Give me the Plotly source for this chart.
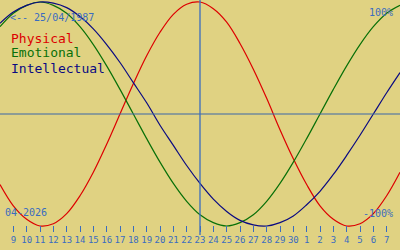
import plotly.graph_objects as go

# Days: April 8 (8) .. May 8 (38)
days = list(range(8, 39))
physical = [-0.63, -0.82, -0.94, -1.00, -0.98, -0.89, -0.73, -0.52, -0.27, 0.00,
            0.27, 0.52, 0.73, 0.89, 0.98, 1.00, 0.94, 0.82, 0.63, 0.40,
            0.14, -0.14, -0.40, -0.63, -0.82, -0.94, -1.00, -0.98, -0.89, -0.73, -0.52]
emotional = [0.78, 0.90, 0.97, 1.00, 0.97, 0.90, 0.78, 0.62, 0.43, 0.22,
             0.00, -0.22, -0.43, -0.62, -0.78, -0.90, -0.97, -1.00, -0.97, -0.90,
             -0.78, -0.62, -0.43, -0.22, 0.00, 0.22, 0.43, 0.62, 0.78, 0.90, 0.97]
intellectual = [0.81, 0.91, 0.97, 1.00, 0.99, 0.95, 0.87, 0.76, 0.62, 0.46,
                0.28, 0.10, -0.10, -0.28, -0.46, -0.62, -0.76, -0.87, -0.95, -0.99,
                -1.00, -0.97, -0.91, -0.81, -0.69, -0.54, -0.37, -0.19, 0.00, 0.19, 0.37]

tick_vals = list(range(9, 38))
tick_text = ["9", "10", "11", "12", "13", "14", "15", "16", "17", "18", "19", "20",
             "21", "22", "23", "24", "25", "26", "27", "28", "29", "30",
             "1", "2", "3", "4", "5", "6", "7"]
today = 23
birth_label = "<-- 25/04/1987"
month_label = "04-2026"

BG = "#e0d282"
AXC = "#3a6cc0"
RED = "#dd0000"
GREEN = "#087008"
BLUE = "#0a0a82"

fig = go.Figure()
for vals, col in [(physical, RED), (emotional, GREEN), (intellectual, BLUE)]:
    fig.add_trace(go.Scatter(x=days, y=vals, mode="lines",
                             line=dict(color=col, width=1.2, shape="spline", smoothing=1.0),
                             hoverinfo="skip", showlegend=False))

fig.add_shape(type="line", xref="paper", yref="y", x0=0, x1=1, y0=0, y1=0,
              line=dict(color="#3a66a8", width=1))
fig.add_shape(type="line", xref="x", yref="paper", x0=today, x1=today, y0=(250 - 235) / 250, y1=1,
              line=dict(color=AXC, width=1.3))

mono = "DejaVu Sans Mono"
def txt(x, y, s, col, size, xanchor="left"):
    fig.add_annotation(x=x / 400, y=1 - y / 250, xref="paper", yref="paper", text=s,
                       showarrow=False, xanchor=xanchor, yanchor="middle",
                       font=dict(family=mono, size=size, color=col))

txt(8, 17, birth_label, AXC, 10)
txt(395, 12, "100%", AXC, 10, "right")
txt(395, 213, "-100%", AXC, 10, "right")
txt(3, 212, month_label, AXC, 10)
txt(9, 38, "Physical", RED, 13)
txt(9, 53, "Emotional", GREEN, 13)
txt(9, 68, "Intellectual", BLUE, 13)

fig.update_layout(
    width=400, height=250, margin=dict(l=0, r=0, t=0, b=0),
    paper_bgcolor=BG, plot_bgcolor=BG, showlegend=False,
    xaxis=dict(range=[8, 38], showgrid=False, zeroline=False, showline=False,
               tickmode="array", tickvals=tick_vals, ticktext=tick_text,
               ticks="outside", ticklen=6, tickwidth=1, tickcolor=AXC, tickangle=0,
               anchor="free", position=(250 - 225) / 250,
               tickfont=dict(family=mono, size=9, color=AXC)),
    yaxis=dict(range=[(114 - 250) / 112, 114 / 112], visible=False, showgrid=False, zeroline=False),
)
fig.write_html("out.html")
